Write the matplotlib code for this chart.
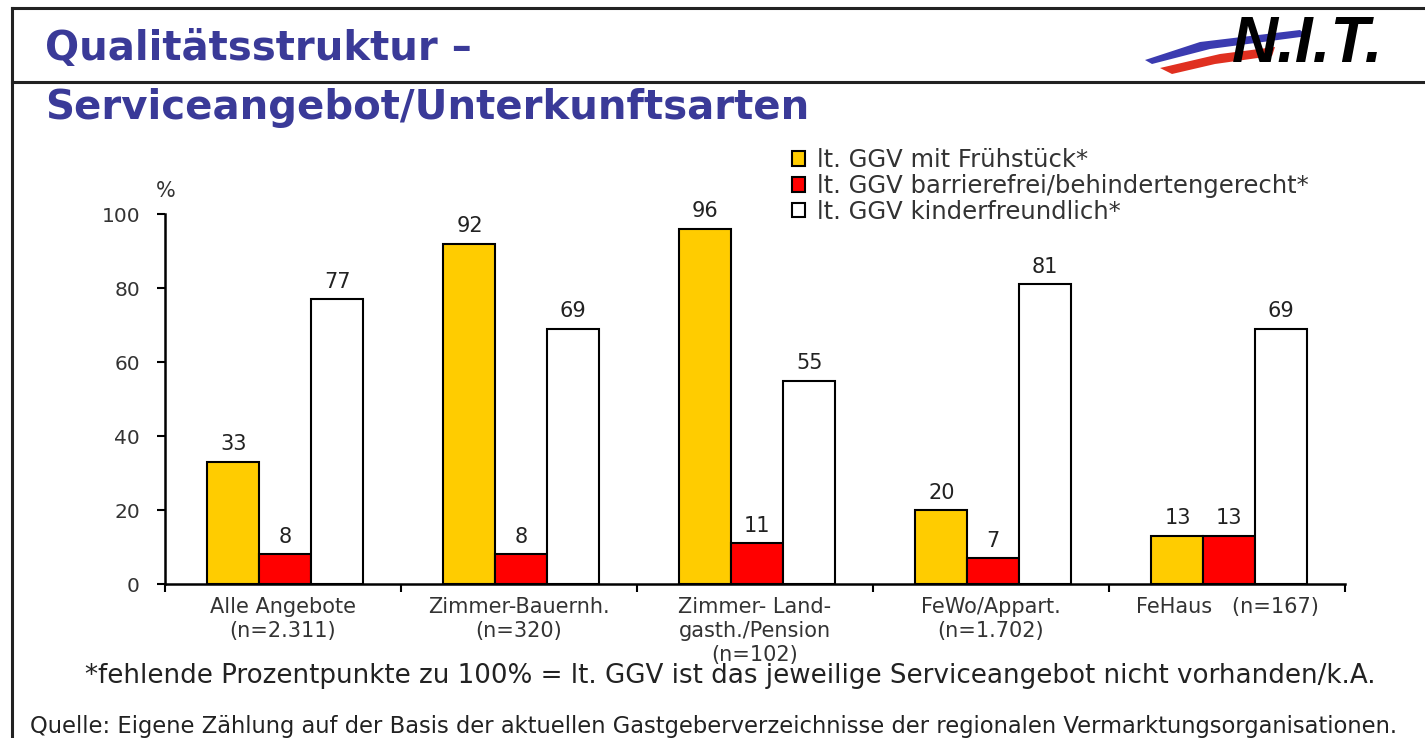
import matplotlib
matplotlib.use("Agg")
import matplotlib.pyplot as plt
import numpy as np
from matplotlib.lines import Line2D
from matplotlib.patches import Polygon

categories = ["Alle Angebote\n(n=2.311)", "Zimmer-Bauernh.\n(n=320)",
              "Zimmer- Land-\ngasth./Pension\n(n=102)", "FeWo/Appart.\n(n=1.702)",
              "FeHaus   (n=167)"]
series_names = ["lt. GGV mit Frühstück*", "lt. GGV barrierefrei/behindertengerecht*",
                "lt. GGV kinderfreundlich*"]
fruehstueck = [33, 92, 96, 20, 13]
barrierefrei = [8, 8, 11, 7, 13]
kinder = [77, 69, 55, 81, 69]
yticks = [0, 20, 40, 60, 80, 100]
colors = ["#FFCC00", "#FF0000", "#FFFFFF"]

plt.rcParams["font.family"] = ["DejaVu Sans"]

W, H = 1425, 738
fig = plt.figure(figsize=(W / 100, H / 100), dpi=100)
fig.patch.set_facecolor("white")

def fx(px):
    return px / W

def fy(py):
    return 1 - py / H

# frame lines
fig.add_artist(Line2D([fx(12), 1], [fy(8), fy(8)], color="#222222", lw=2.2))
fig.add_artist(Line2D([fx(12), fx(12)], [fy(8), 0], color="#222222", lw=2.2))
fig.add_artist(Line2D([fx(12), 1], [fy(82), fy(82)], color="#222222", lw=2.2))

title_color = "#3A3A98"
fig.text(fx(45), fy(49), "Qualitätsstruktur –", color=title_color, fontsize=29,
         fontweight="bold", va="center", ha="left")
fig.text(fx(45), fy(108), "Serviceangebot/Unterkunftsarten", color=title_color,
         fontsize=29, fontweight="bold", va="center", ha="left")

# logo
fig.add_artist(Polygon([[fx(1145), fy(60)], [fx(1200), fy(42)], [fx(1300), fy(30)],
                        [fx(1308), fy(36)], [fx(1210), fy(49)], [fx(1152), fy(64)]],
                       closed=True, facecolor="#3B3BB0", edgecolor="none",
                       transform=fig.transFigure))
fig.add_artist(Polygon([[fx(1160), fy(68)], [fx(1220), fy(54)], [fx(1275), fy(47)],
                        [fx(1272), fy(56)], [fx(1215), fy(64)], [fx(1172), fy(74)]],
                       closed=True, facecolor="#E03020", edgecolor="none",
                       transform=fig.transFigure))
fig.text(fx(1232), fy(45), "N.I.T.", fontsize=46, fontweight="bold", fontstyle="italic",
         family="Liberation Sans", color="black", va="center", ha="left")

ax = fig.add_axes([fx(165), fy(584), fx(1345) - fx(165), fy(214) - fy(584)])
n = len(categories)
x = np.arange(n) + 0.5
bw = 0.22
series = [fruehstueck, barrierefrei, kinder]
for i, (vals, c, name) in enumerate(zip(series, colors, series_names)):
    pos = x + (i - 1) * bw + 0.01
    ax.bar(pos, vals, width=bw, color=c, edgecolor="black", linewidth=1.5,
           label=name, zorder=3)
    for xp, v in zip(pos, vals):
        ax.text(xp, v + 2.0, str(v), ha="center", va="bottom", fontsize=15,
                color="#222222")

ax.set_xlim(0, n)
ax.set_ylim(0, 100)
ax.set_yticks(yticks)
ax.set_yticklabels([str(t) for t in yticks], fontsize=14.5, color="#333333")
ax.set_xticks(np.arange(n + 1))
ax.set_xticklabels([])
ax.tick_params(axis="x", length=6, width=1.5, direction="out")
ax.tick_params(axis="y", length=6, width=1.5, direction="out", pad=12)
for s in ["top", "right"]:
    ax.spines[s].set_visible(False)
for s in ["left", "bottom"]:
    ax.spines[s].set_linewidth(1.8)
for xi, lab in zip(x, categories):
    ax.text(xi, -3.6, lab, ha="center", va="top", fontsize=15, color="#333333",
            linespacing=1.25)
ax.text(-0.04, 103.5, "%", ha="left", va="bottom", fontsize=15, color="#333333")

leg = ax.legend(loc="upper left", bbox_to_anchor=((fx(782) - fx(165)) / (fx(1345) - fx(165)), 1.205),
                frameon=False, fontsize=17.5, handlelength=0.55, handleheight=0.55,
                handletextpad=0.5, labelspacing=0.08, borderaxespad=0)
for t in leg.get_texts():
    t.set_color("#333333")

fig.text(fx(85), fy(676), "*fehlende Prozentpunkte zu 100% = lt. GGV ist das jeweilige Serviceangebot nicht vorhanden/k.A.",
         fontsize=18.8, color="#222222", va="center", ha="left")
fig.text(fx(30), fy(727), "Quelle: Eigene Zählung auf der Basis der aktuellen Gastgeberverzeichnisse der regionalen Vermarktungsorganisationen.",
         fontsize=16.3, color="#222222", va="center", ha="left")

fig.savefig("out.png", dpi=100)
